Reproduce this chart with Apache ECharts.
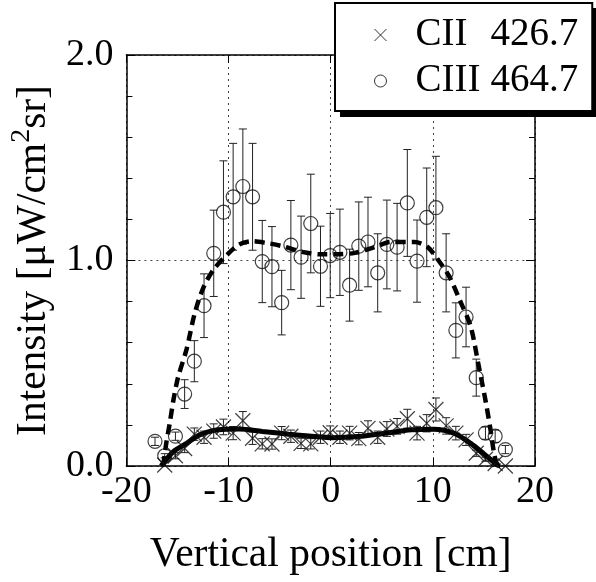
<!DOCTYPE html>
<html><head><meta charset="utf-8">
<script src="https://cdn.jsdelivr.net/npm/echarts@6/dist/echarts.min.js"></script>
<style>html,body{margin:0;padding:0;background:#fff}#c{width:596px;height:582px}</style>
</head><body><div id="c"></div>
<script>
// ---- data ----
const ciiiX = [-17.2,-16.25,-15.2,-14.3,-13.35,-12.4,-11.45,-10.5,-9.55,-8.6,-7.65,-6.7,-5.75,-4.8,-3.9,-2.9,-1.95,-1.0,-0.05,0.9,1.85,2.75,3.65,4.6,5.5,6.5,7.5,8.45,9.4,10.3,11.3,12.25,13.25,14.25,15.15,16.1,17.1];
const ciiiY = [0.12,0.05,0.145,0.35,0.51,0.78,1.035,1.235,1.31,1.36,1.31,0.995,0.97,0.795,1.075,1.016,1.18,0.972,1.024,1.04,0.88,1.07,1.09,0.94,1.078,1.065,1.28,0.997,1.21,1.257,0.94,0.66,0.725,0.43,0.16,0.145,0.08];
const ciiiErr = [0.02,0.01,0.02,0.07,0.1,0.155,0.21,0.25,0.26,0.28,0.26,0.2,0.195,0.157,0.217,0.2,0.24,0.195,0.205,0.21,0.175,0.215,0.218,0.19,0.216,0.213,0.26,0.2,0.24,0.25,0.19,0.134,0.145,0.09,0.03,0.03,0.02];
const ciiX = [-16.25,-15.2,-14.3,-13.35,-12.4,-11.45,-10.5,-9.55,-8.6,-7.65,-6.7,-5.75,-4.8,-3.9,-2.9,-1.95,-1.0,-0.05,0.9,1.85,2.75,3.65,4.6,5.5,6.5,7.5,8.45,9.4,10.3,11.3,12.25,13.25,14.25,15.15,16.1,17.1];
const ciiY = [0.005,0.05,0.085,0.155,0.14,0.17,0.19,0.16,0.22,0.135,0.108,0.107,0.16,0.145,0.11,0.108,0.14,0.162,0.14,0.16,0.133,0.183,0.14,0.18,0.193,0.23,0.16,0.208,0.275,0.195,0.16,0.127,0.062,0.033,0.012,0.0];
const ciiErr = [0.01,0.015,0.02,0.03,0.03,0.035,0.038,0.032,0.045,0.03,0.025,0.025,0.032,0.03,0.025,0.025,0.03,0.033,0.03,0.033,0.03,0.037,0.03,0.036,0.038,0.046,0.033,0.042,0.056,0.04,0.033,0.027,0.015,0.01,0.005,0.003];
const fitCIIIx = [-16.4,-16.1,-15.75,-15.4,-14.95,-14.1,-13.3,-12.4,-11.4,-10.1,-8.96,-7.67,-6.37,-4.76,-2.8,-0.87,0.42,2.36,4.3,5.9,8.2,9.5,10.6,11.6,12.7,13.7,14.5,15.15,15.6,16.0,16.3];
const fitCIIIy = [0,0.11,0.21,0.32,0.43,0.57,0.745,0.875,0.96,1.03,1.078,1.094,1.086,1.07,1.042,1.03,1.03,1.037,1.065,1.09,1.09,1.065,0.997,0.923,0.8,0.68,0.484,0.32,0.19,0.06,0];
const fitCIIx = [-16.6,-15.4,-14.1,-12.9,-11.55,-10.25,-8.96,-6.7,-4.1,-1.5,0.1,2.7,5.3,7.9,10.1,12.1,13.7,15.0,16.3,16.6];
const fitCIIy = [0,0.07,0.11,0.15,0.172,0.179,0.18,0.168,0.155,0.143,0.138,0.143,0.159,0.176,0.179,0.159,0.11,0.059,0.005,0];
const xTicks = [-20,-10,0,10,20];
const yTicks = [0.0,1.0,2.0];
const legendNames = ['CII  426.7','CIII 464.7'];

// ---- chart ----
const FONT = 'Liberation Serif';
const zip = (a,b,c) => a.map((v,i)=> c ? [v,b[i],c[i]] : [v,b[i]]);
function errRender(capHalf){
  return function(params, api){
    const x = api.value(0), y = api.value(1), e = api.value(2);
    const t = api.coord([x, y + e]);
    const b = api.coord([x, Math.max(0, y - e)]);
    const st = {stroke:'#222', lineWidth:1};
    return {type:'group', children:[
      {type:'line', shape:{x1:t[0],y1:t[1],x2:b[0],y2:b[1]}, style:st},
      {type:'line', shape:{x1:t[0]-capHalf,y1:t[1],x2:t[0]+capHalf,y2:t[1]}, style:st},
      {type:'line', shape:{x1:b[0]-capHalf,y1:b[1],x2:b[0]+capHalf,y2:b[1]}, style:st}
    ]};
  };
}
const XPATH = 'path://M0,0L10,10M10,0L0,10';
const chart = echarts.init(document.getElementById('c'), null, {renderer:'canvas'});
const axisLine = {show:true, onZero:false, lineStyle:{color:'#000', width:1.5}};
chart.setOption({
  animation:false,
  backgroundColor:'#fff',
  grid: {left:123, right:61, top:55, bottom:116},
  graphic: [
    {type:'rect', left:340, top:8, shape:{width:256, height:109}, style:{fill:'#000'}, z:100, zlevel:0}
  ],
  xAxis: [
    {type:'value', min:xTicks[0], max:xTicks[xTicks.length-1], interval:10, position:'bottom',
     axisLine:axisLine, axisTick:{inside:true, length:8, lineStyle:{color:'#000'}},
     axisLabel:{margin:7, color:'#000', fontFamily:FONT, fontSize:38, formatter:v=>String(v)},
     splitLine:{show:true, lineStyle:{color:'#444', type:[2,4], width:1}},
     name:'Vertical position [cm]', nameLocation:'middle', nameGap:68,
     nameTextStyle:{color:'#000', fontFamily:FONT, fontSize:41.5}},
    {type:'value', min:xTicks[0], max:xTicks[xTicks.length-1], interval:10, position:'top',
     axisLine:axisLine, axisTick:{inside:true, length:8, lineStyle:{color:'#000'}},
     axisLabel:{show:false}, splitLine:{show:false}}
  ],
  yAxis: [
    {type:'value', min:yTicks[0], max:yTicks[yTicks.length-1], interval:1, position:'left',
     axisLine:axisLine, axisTick:{inside:true, length:9, lineStyle:{color:'#000'}},
     minorTick:{show:true, splitNumber:5, length:6, lineStyle:{color:'#000'}},
     axisLabel:{margin:13, color:'#000', fontFamily:FONT, fontSize:38, formatter:v=>v.toFixed(1)},
     splitLine:{show:true, lineStyle:{color:'#444', type:[2,4], width:1}},
     name:'{a|Intensity [μW/cm}{s|2}{a|sr]}', nameLocation:'middle', nameGap:60, nameRotate:90,
     nameTextStyle:{color:'#000', fontFamily:FONT, fontSize:41.5,
       rich:{a:{fontFamily:FONT, fontSize:41.5, color:'#000', lineHeight:52, verticalAlign:'middle'},
             s:{fontFamily:FONT, fontSize:28, color:'#000', lineHeight:26, verticalAlign:'top'}}}},
    {type:'value', min:yTicks[0], max:yTicks[yTicks.length-1], interval:1, position:'right',
     axisLine:axisLine, axisTick:{inside:true, length:9, lineStyle:{color:'#000'}},
     minorTick:{show:true, splitNumber:5, length:6, lineStyle:{color:'#000'}},
     axisLabel:{show:false}, splitLine:{show:false}}
  ],
  legend: {
    left:335, top:3, orient:'vertical', z:200,
    padding:[12,14,10,37],
    itemWidth:12, itemHeight:12, itemGap:6,
    backgroundColor:'#fff', borderColor:'#000', borderWidth:2,
    textStyle:{fontFamily:FONT, fontSize:39, color:'#000', lineHeight:40,
      rich:{n:{fontFamily:FONT, fontSize:39, color:'#000', width:75, padding:[0,0,0,24]},
            v:{fontFamily:FONT, fontSize:39, color:'#000'}}},
    formatter: function(name){ const p = name.split(/\s+/); return '{n|'+p[0]+'}{v|'+p[1]+'}'; },
    data:[
      {name:legendNames[0], icon:XPATH, itemStyle:{color:'none', borderColor:'#000', borderWidth:1}},
      {name:legendNames[1], icon:'circle', itemStyle:{color:'none', borderColor:'#000', borderWidth:1}}
    ]
  },
  series: [
    {type:'custom', name:'ciiiErr', silent:true, renderItem:errRender(4), data:zip(ciiiX,ciiiY,ciiiErr), encode:{x:0,y:1}, z:2},
    {type:'custom', name:'ciiErr', silent:true, renderItem:errRender(4), data:zip(ciiX,ciiY,ciiErr), encode:{x:0,y:1}, z:2},
    {type:'line', name:'fitIII', data:zip(fitCIIIx,fitCIIIy), showSymbol:false, smooth:0.3,
     lineStyle:{color:'#000', width:4.5, type:[10,6]}, z:3},
    {type:'line', name:'fitII', data:zip(fitCIIx,fitCIIy), showSymbol:false, smooth:0.3,
     lineStyle:{color:'#000', width:5}, z:3},
    {type:'scatter', name:legendNames[1], data:zip(ciiiX,ciiiY), symbol:'circle', symbolSize:14,
     itemStyle:{color:'none', borderColor:'#111', borderWidth:1.2}, z:4},
    {type:'scatter', name:legendNames[0], data:zip(ciiX,ciiY), symbol:XPATH, symbolSize:15,
     itemStyle:{color:'none', borderColor:'#111', borderWidth:1.2}, z:4}
  ]
});
</script></body></html>
